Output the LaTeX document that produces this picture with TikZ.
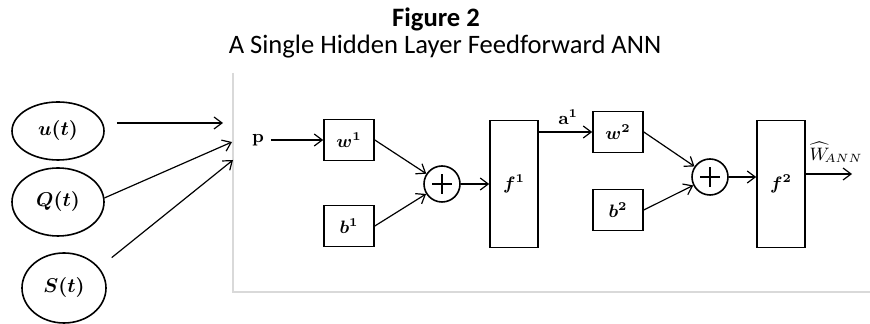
\documentclass[tikz,border=0pt]{standalone}
\usepackage{amsmath,amssymb}
\usepackage[no-math]{fontspec}
\setmainfont{Carlito}
\usetikzlibrary{positioning, arrows.meta, shapes.geometric}

\begin{document}
\begin{tikzpicture}[
      x=0.5pt, y=-0.5pt,
      box/.style={draw, line width=0.8pt, minimum width=25pt,
                  minimum height=20.5pt, inner sep=0pt, font=\small},
      tallbox/.style={box, minimum width=24pt, minimum height=63.5pt},
      sumnode/.style={draw, circle, line width=0.8pt, minimum size=18pt,
                      inner sep=0pt,
                      path picture={\draw[line width=0.6pt]
                        ([xshift=-5pt]path picture bounding box.center) -- ([xshift=5pt]path picture bounding box.center)
                        ([yshift=-5pt]path picture bounding box.center) -- ([yshift=5pt]path picture bounding box.center);}},
      inp/.style={draw, ellipse, line width=0.8pt, inner sep=0pt},
      arr/.style={-{Straight Barb[length=4pt,width=6pt]}, line width=0.6pt},
      panel/.style={draw=gray!30, line width=0.6pt},
    ]
    \useasboundingbox (0,0) rectangle (870,324);

    % ── Title ──
    \node[font=\fontsize{13.3}{16}\selectfont\bfseries] (fig) at (436,19) {Figure 2};
    \node[font=\fontsize{13.3}{16}\selectfont] (cap) at (445,47) {A Single Hidden Layer Feedforward ANN};

    % ── Panel edges ──
    \draw[panel] (233,73) |- (870,292);

    % ── Inputs ──
    \node[inp, minimum width=46pt, minimum height=29pt] (u) at (58,131) {$\boldsymbol{u(t)}$};
    \node[inp, minimum width=46pt, minimum height=34pt] (q) at (58,202) {$\boldsymbol{Q(t)}$};
    \node[inp, minimum width=42pt, minimum height=35pt] (s) at (64,288) {$\boldsymbol{S(t)}$};

    \coordinate (uin) at (223,123);
    \coordinate (qin) at (232,142);
    \coordinate (sin) at (233,160);

    \draw[arr] ([xshift=6pt]u.east |- uin) -- (uin);
    \draw[arr] (q.5) -- (qin);
    \draw[arr, shorten <=8pt] (s.30) -- (sin);

    % ── Layer 1 ──
    \node[font=\small] (p) at (258,140) {$\mathbf{p}$};
    \node[box] (w1) at (349,140) {$\boldsymbol{w^1}$};
    \node[box] (b1) at (349,226) {$\boldsymbol{b^1}$};
    \node[sumnode] (s1) at (442,184) {};
    \node[tallbox] (f1) at (514,184) {$\boldsymbol{f^1}$};

    \draw[arr] (p) -- (w1);
    \draw[arr] (w1.east) -- (s1);
    \draw[arr] (b1.east) -- (s1);
    \draw[arr] (s1) -- (f1);

    % ── Layer 2 ──
    \node[box] (w2) at (618,132) {$\boldsymbol{w^2}$};
    \node[box] (b2) at (618,210) {$\boldsymbol{b^2}$};
    \node[sumnode] (s2) at (710,177) {};
    \node[tallbox] (f2) at (781,184) {$\boldsymbol{f^2}$};
    \coordinate (out) at (852,174);

    \draw[arr] (f1.east |- w2) -- node[above, font=\small, pos=0.55] {$\mathbf{a^1}$} (w2);
    \draw[arr] (w2.east) -- (s2);
    \draw[arr] (b2.east) -- (s2);
    \draw[arr] (s2) -- (s2 -| f2.west);
    \draw[arr] (f2.east |- out) -- (out);
    \node[font=\small] (wann) at (836,152) {$\widehat{W}_{\!ANN}$};
  \end{tikzpicture}
\end{document}
